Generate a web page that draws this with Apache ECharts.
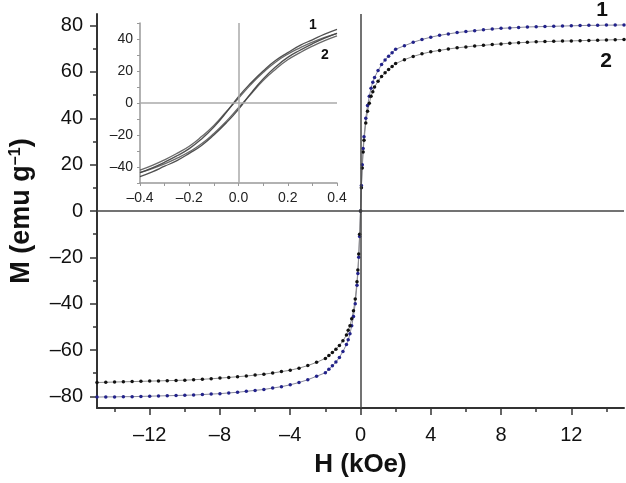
<!DOCTYPE html>
<html>
<head>
<meta charset="utf-8">
<script src="https://cdn.jsdelivr.net/npm/echarts@6/dist/echarts.min.js"></script>
<style>
  html, body { margin: 0; padding: 0; background: #fff; }
  #main { width: 626px; height: 483px; }
</style>
</head>
<body>
<div id="main"></div>
<script>
// main M-H loops, field in kOe
var fieldH = [-15, -14.5, -14, -13.5, -13, -12.5, -12, -11.5, -11, -10.5, -10, -9.5, -9, -8.5, -8, -7.5, -7, -6.5, -6, -5.5, -5, -4.5, -4, -3.5, -3, -2.5, -2, -1.8, -1.6, -1.4, -1.2, -1, -0.8, -0.7, -0.6, -0.5, -0.4, -0.3, -0.2, -0.15, -0.1, -0.05,
  0, 0.05, 0.1, 0.15, 0.2, 0.3, 0.4, 0.5, 0.6, 0.7, 0.8, 1, 1.2, 1.4, 1.6, 1.8, 2, 2.5, 3, 3.5, 4, 4.5, 5, 5.5, 6, 6.5, 7, 7.5, 8, 8.5, 9, 9.5, 10, 10.5, 11, 11.5, 12, 12.5, 13, 13.5, 14, 14.5, 15];
var sample1 = [-80.3, -80.2, -80.2, -80.1, -80.1, -80, -79.9, -79.8, -79.7, -79.6, -79.5, -79.4, -79.2, -79, -78.8, -78.5, -78.2, -77.8, -77.4, -77, -76.4, -75.8, -75, -74, -72.8, -71.3, -69.8, -68.3, -66.8, -65.2, -63.2, -60.6, -57.6, -55.6, -53, -49.5, -45.5, -40, -32, -27, -20, -11,
  0, 11, 20, 27, 32, 40, 45.5, 49.5, 53, 55.6, 57.6, 60.6, 63.2, 65.2, 66.8, 68.3, 69.8, 71.3, 72.8, 74, 75, 75.8, 76.4, 77, 77.4, 77.8, 78.2, 78.5, 78.8, 79, 79.2, 79.4, 79.5, 79.6, 79.7, 79.8, 79.9, 80, 80.1, 80.1, 80.2, 80.2, 80.3];
var sample2 = [-74, -73.9, -73.8, -73.7, -73.6, -73.5, -73.4, -73.3, -73.2, -73.1, -73, -72.8, -72.6, -72.4, -72.1, -71.8, -71.5, -71.2, -70.8, -70.4, -69.9, -69.3, -68.7, -67.8, -66.7, -65.3, -63.6, -62.4, -61.1, -59.7, -58, -56, -53.5, -51.5, -49.5, -46.5, -43, -38, -30.5, -25.5, -18.5, -10,
  0, 10, 18.5, 25.5, 30.5, 38, 43, 46.5, 49.5, 51.5, 53.5, 56, 58, 59.7, 61.1, 62.4, 63.6, 65.3, 66.7, 67.8, 68.7, 69.3, 69.9, 70.4, 70.8, 71.2, 71.5, 71.8, 72.1, 72.4, 72.6, 72.8, 73, 73.1, 73.2, 73.3, 73.4, 73.5, 73.6, 73.7, 73.8, 73.9, 74];

// inset: low-field loops
var insetH = [-0.4, -0.35, -0.3, -0.25, -0.2, -0.15, -0.1, -0.05, 0, 0.05, 0.1, 0.15, 0.2, 0.25, 0.3, 0.35, 0.4];
var loop1Down = [-43.5, -40.5, -37, -33, -28.5, -22.5, -15, -6, 4, 12.5, 20, 26.5, 31.5, 36, 39.5, 43, 46];
var loop1Up = [-46, -43, -39.5, -36, -31.5, -26.5, -20, -12.5, -4, 6, 15, 22.5, 28.5, 33, 37, 40.5, 43.5];
var loop2Down = [-42, -39, -35.5, -31.5, -27, -21, -14, -5.5, 3, 11.5, 19, 25.5, 30.5, 34.5, 38, 41, 43.5];
var loop2Up = [-43.5, -41, -38, -34.5, -30.5, -25.5, -19, -11.5, -3, 5.5, 14, 21, 27, 31.5, 35.5, 39, 42];

var mainYLabels = [-80, -60, -40, -20, 0, 20, 40, 60, 80];
var mainYMinor = [-70, -50, -30, -10, 10, 30, 50, 70];
var mainXLabels = [-12, -8, -4, 0, 4, 8, 12];
var mainXMinor = [-14, -10, -6, -2, 2, 6, 10, 14];
var insetXLabels = [-0.4, -0.2, 0, 0.2, 0.4];
var insetXTicks = [-0.4, -0.3, -0.2, -0.1, 0, 0.1, 0.2, 0.3, 0.4];
var insetYLabels = [-40, -20, 0, 20, 40];
var insetYTicks = [-50, -40, -30, -20, -10, 0, 10, 20, 30, 40, 50];

var FONT = 'Liberation Sans, Arial, sans-serif';

function pairs(xs, ys) {
  return xs.map(function (x, i) { return [x, ys[i]]; });
}
function dash(v) {
  return String(v).replace('-', '–');
}

var chart = echarts.init(document.getElementById('main'));

var option = {
  animation: false,
  backgroundColor: '#fff',
  textStyle: { fontFamily: FONT },
  grid: [
    { left: 95, right: 2, top: 14, bottom: 73 },
    { left: 140, top: 23, width: 197, height: 160 }
  ],
  xAxis: [
    {
      gridIndex: 0, type: 'value', min: -15, max: 15, position: 'bottom',
      name: 'H (kOe)', nameLocation: 'middle', nameGap: 44,
      nameTextStyle: { fontSize: 26, fontWeight: 'bold', color: '#111', fontFamily: FONT },
      axisLine: { onZero: false, lineStyle: { color: '#333', width: 2 } },
      axisTick: { customValues: mainXLabels, length: 7, lineStyle: { color: '#333', width: 1.5 } },
      axisLabel: { customValues: mainXLabels, fontSize: 20, color: '#111', margin: 17, formatter: dash },
      splitLine: { show: false }
    },
    {
      gridIndex: 0, type: 'value', min: -15, max: 15, position: 'bottom',
      axisLine: { show: false, onZero: false },
      axisTick: { customValues: mainXMinor, length: 4, lineStyle: { color: '#333', width: 1.5 } },
      axisLabel: { show: false },
      splitLine: { show: false }
    },
    {
      gridIndex: 1, type: 'value', min: -0.4, max: 0.4, position: 'bottom',
      axisLine: { onZero: false, lineStyle: { color: '#999', width: 1.5 } },
      axisTick: { customValues: insetXTicks, length: 3, lineStyle: { color: '#999' } },
      axisLabel: {
        customValues: insetXLabels, fontSize: 14, color: '#222', margin: 8,
        formatter: function (v) { return dash(v.toFixed(1)); }
      },
      splitLine: { show: false }
    }
  ],
  yAxis: [
    {
      gridIndex: 0, type: 'value', min: -85, max: 85, position: 'left',
      name: '{a|M (emu g}{s|–1}{a|)}', nameLocation: 'middle', nameRotate: 90, nameGap: 62,
      nameTextStyle: {
        rich: {
          a: { fontSize: 27, fontWeight: 'bold', color: '#111', fontFamily: FONT },
          s: { fontSize: 16, fontWeight: 'bold', color: '#111', fontFamily: FONT, verticalAlign: 'top' }
        }
      },
      axisLine: { onZero: false, lineStyle: { color: '#333', width: 2 } },
      axisTick: { customValues: mainYLabels, length: 7, lineStyle: { color: '#333', width: 1.5 } },
      axisLabel: { customValues: mainYLabels, fontSize: 20, color: '#111', margin: 14, formatter: dash },
      splitLine: { show: false }
    },
    {
      gridIndex: 0, type: 'value', min: -85, max: 85, position: 'left',
      axisLine: { show: false, onZero: false },
      axisTick: { customValues: mainYMinor, length: 4, lineStyle: { color: '#333', width: 1.5 } },
      axisLabel: { show: false },
      splitLine: { show: false }
    },
    {
      gridIndex: 1, type: 'value', min: -50, max: 50, position: 'left',
      axisLine: { onZero: false, lineStyle: { color: '#999', width: 1.5 } },
      axisTick: { customValues: insetYTicks, length: 3, lineStyle: { color: '#999' } },
      axisLabel: { customValues: insetYLabels, fontSize: 14, color: '#222', margin: 7, formatter: dash },
      splitLine: { show: false }
    }
  ],
  series: [
    {
      name: '1', type: 'line', xAxisIndex: 0, yAxisIndex: 0,
      data: pairs(fieldH, sample1),
      symbol: 'circle', symbolSize: 3.5,
      lineStyle: { color: '#8a8a9c', width: 1 },
      itemStyle: { color: '#22228a' },
      markLine: {
        silent: true, symbol: 'none', label: { show: false },
        lineStyle: { color: '#444', type: 'solid', width: 1.5 },
        data: [{ xAxis: 0 }, { yAxis: 0 }]
      },
      z: 3
    },
    {
      name: '2', type: 'line', xAxisIndex: 0, yAxisIndex: 0,
      data: pairs(fieldH, sample2),
      symbol: 'circle', symbolSize: 3.5,
      lineStyle: { color: '#8c8c8c', width: 1 },
      itemStyle: { color: '#111' },
      z: 3
    },
    {
      type: 'line', xAxisIndex: 2, yAxisIndex: 2,
      data: pairs(insetH, loop1Down), smooth: true, showSymbol: false,
      lineStyle: { color: '#333', width: 1.3, opacity: 0.85 },
      markLine: {
        silent: true, symbol: 'none', label: { show: false },
        lineStyle: { color: '#aaa', type: 'solid', width: 1.5 },
        data: [{ xAxis: 0 }, { yAxis: 0 }]
      }
    },
    {
      type: 'line', xAxisIndex: 2, yAxisIndex: 2,
      data: pairs(insetH, loop1Up), smooth: true, showSymbol: false,
      lineStyle: { color: '#333', width: 1.3, opacity: 0.85 }
    },
    {
      type: 'line', xAxisIndex: 2, yAxisIndex: 2,
      data: pairs(insetH, loop2Down), smooth: true, showSymbol: false,
      lineStyle: { color: '#444', width: 1.3, opacity: 0.8 }
    },
    {
      type: 'line', xAxisIndex: 2, yAxisIndex: 2,
      data: pairs(insetH, loop2Up), smooth: true, showSymbol: false,
      lineStyle: { color: '#444', width: 1.3, opacity: 0.8 }
    }
  ],
  graphic: [
    { type: 'text', x: 602, y: 10, style: { text: '1', font: 'bold 21px ' + FONT, fill: '#111', textAlign: 'center', textVerticalAlign: 'middle' } },
    { type: 'text', x: 606, y: 61, style: { text: '2', font: 'bold 21px ' + FONT, fill: '#111', textAlign: 'center', textVerticalAlign: 'middle' } },
    { type: 'text', x: 313, y: 25, style: { text: '1', font: 'bold 14px ' + FONT, fill: '#111', textAlign: 'center', textVerticalAlign: 'middle' } },
    { type: 'text', x: 325, y: 55, style: { text: '2', font: 'bold 14px ' + FONT, fill: '#111', textAlign: 'center', textVerticalAlign: 'middle' } }
  ]
};

chart.setOption(option);
</script>
</body>
</html>
